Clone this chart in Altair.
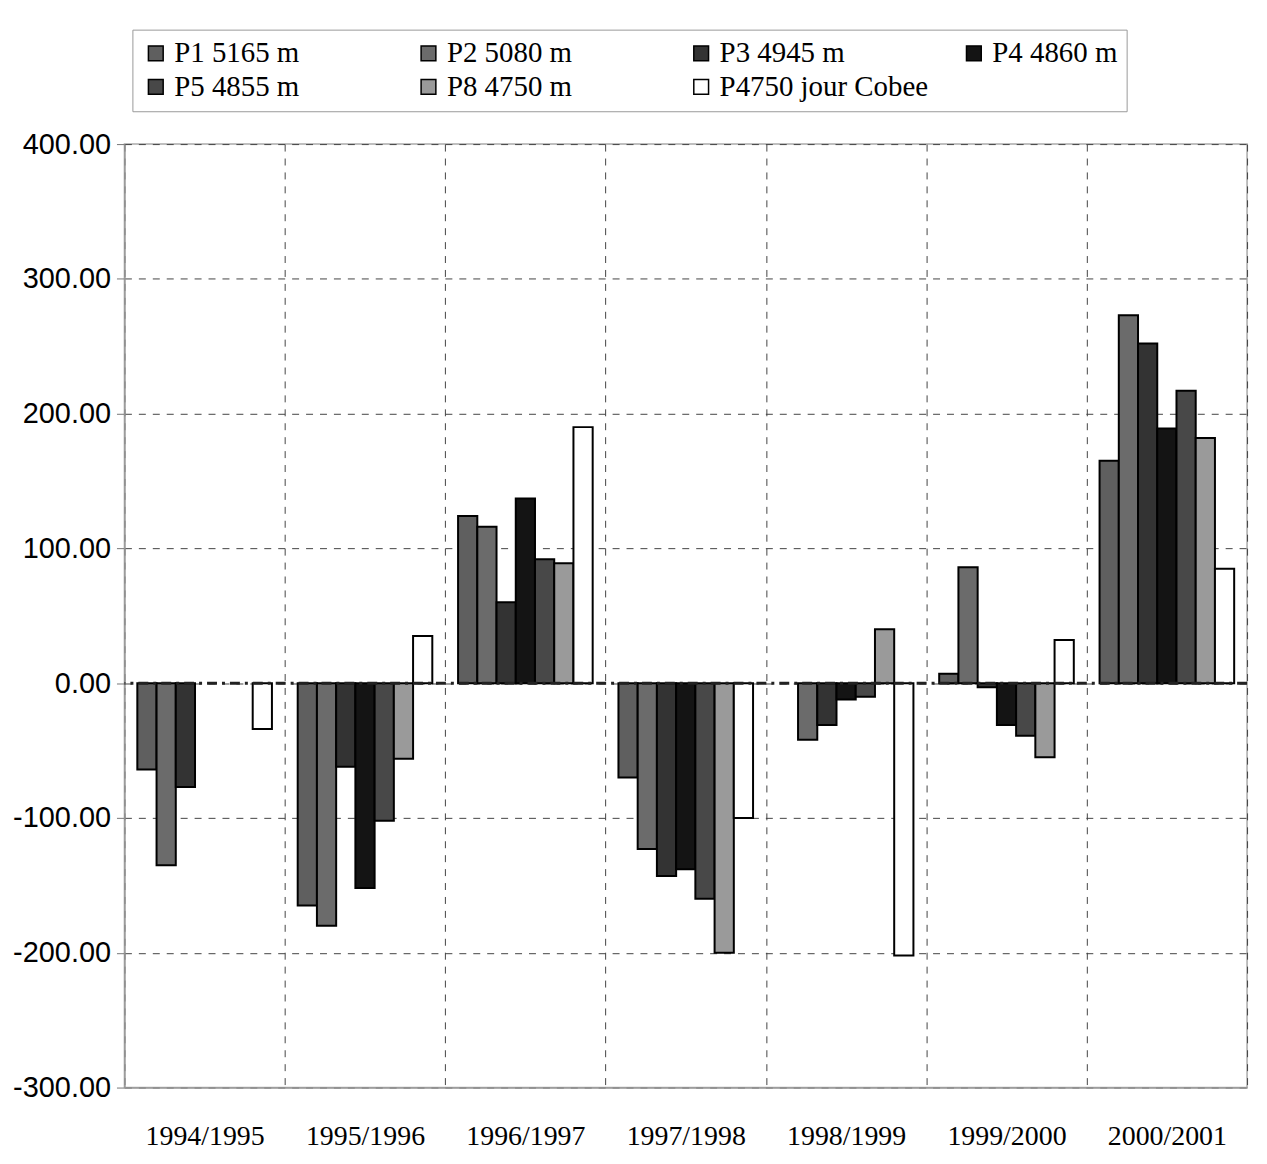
import altair as alt
import pandas as pd

years = ["1994/1995", "1995/1996", "1996/1997", "1997/1998", "1998/1999", "1999/2000", "2000/2001"]
series = ["P1 5165 m", "P2 5080 m", "P3 4945 m", "P4 4860 m", "P5 4855 m", "P8 4750 m", "P4750 jour Cobee"]

p1 = [-64, -165, 124, -70, None, 7, 165]
p2 = [-135, -180, 116, -123, -42, 86, 273]
p3 = [-77, -62, 60, -143, -31, -3, 252]
p4 = [None, -152, 137, -138, -12, -31, 189]
p5 = [None, -102, 92, -160, -10, -39, 217]
p8 = [None, -56, 89, -200, 40, -55, 182]
p4750 = [-34, 35, 190, -100, -202, 32, 85]

colors = ["#5f5f5f", "#6b6b6b", "#333333", "#141414", "#484848", "#9a9a9a", "#ffffff"]
y_ticks = [-300, -200, -100, 0, 100, 200, 300, 400]
baseline = [0]

rows = []
for s, vals in zip(series, [p1, p2, p3, p4, p5, p8, p4750]):
    for yr, v in zip(years, vals):
        if v is not None:
            rows.append({"year": yr, "series": s, "value": v})
df = pd.DataFrame(rows)
zero_df = pd.DataFrame({"value": baseline})

serif = "Liberation Serif"
sans = "Liberation Sans"

y_scale = alt.Scale(domain=[-300, 400], nice=False, zero=False)
y_axis = alt.Axis(
    title=None, values=y_ticks, grid=True,
    labelExpr="replace(format(datum.value, '.2f'), '\u2212', '-')",
    gridDash=[7, 7], gridColor="#444", gridWidth=1,
    domainColor="#999", domainWidth=1.5,
    tickColor="#777", tickSize=8, labelPadding=6,
    labelFont=sans, labelFontSize=29, labelColor="black",
)

bars = alt.Chart(df).mark_bar(stroke="black", strokeWidth=2).encode(
    x=alt.X(
        "year:N",
        scale=alt.Scale(domain=years, paddingInner=0, paddingOuter=0),
        axis=alt.Axis(
            title=None, labelAngle=0, tickBand="extent", grid=True,
            gridDash=[7, 7], gridColor="#444", gridWidth=1,
            ticks=False, domainColor="#999", domainWidth=1.5,
            labelFont=serif, labelFontSize=28, labelPadding=35, labelColor="black",
        ),
    ),
    xOffset=alt.XOffset(
        "series:N",
        scale=alt.Scale(domain=series, paddingInner=0, paddingOuter=0.67),
    ),
    y=alt.Y("value:Q", scale=y_scale, axis=y_axis),
    color=alt.Color(
        "series:N",
        scale=alt.Scale(domain=series, range=colors),
        legend=alt.Legend(
            title=None, orient="none", legendX=8, legendY=-115,
            columns=4, direction="horizontal", gridAlign="all",
            columnPadding=31, rowPadding=4,
            symbolType="square", symbolSize=220,
            symbolStrokeColor="black", symbolStrokeWidth=1.5,
            labelFont=serif, labelFontSize=29, labelColor="black", labelLimit=400,
            strokeColor="#999", padding=9,
        ),
    ),
)

zero = alt.Chart(zero_df).mark_rule(color="#222", strokeWidth=3, strokeDash=[10, 5, 3, 5]).encode(
    y=alt.Y("value:Q", scale=y_scale, axis=y_axis)
)

chart = alt.layer(bars, zero).properties(
    width=1128,
    height=948,
    padding={"left": 117, "top": 134, "right": 12, "bottom": 60},
    autosize=alt.AutoSizeParams(type="none"),
).configure_view(stroke="#aaa", strokeWidth=1.5)

chart.save("out.html", embed_options={"renderer": "svg", "actions": False})
